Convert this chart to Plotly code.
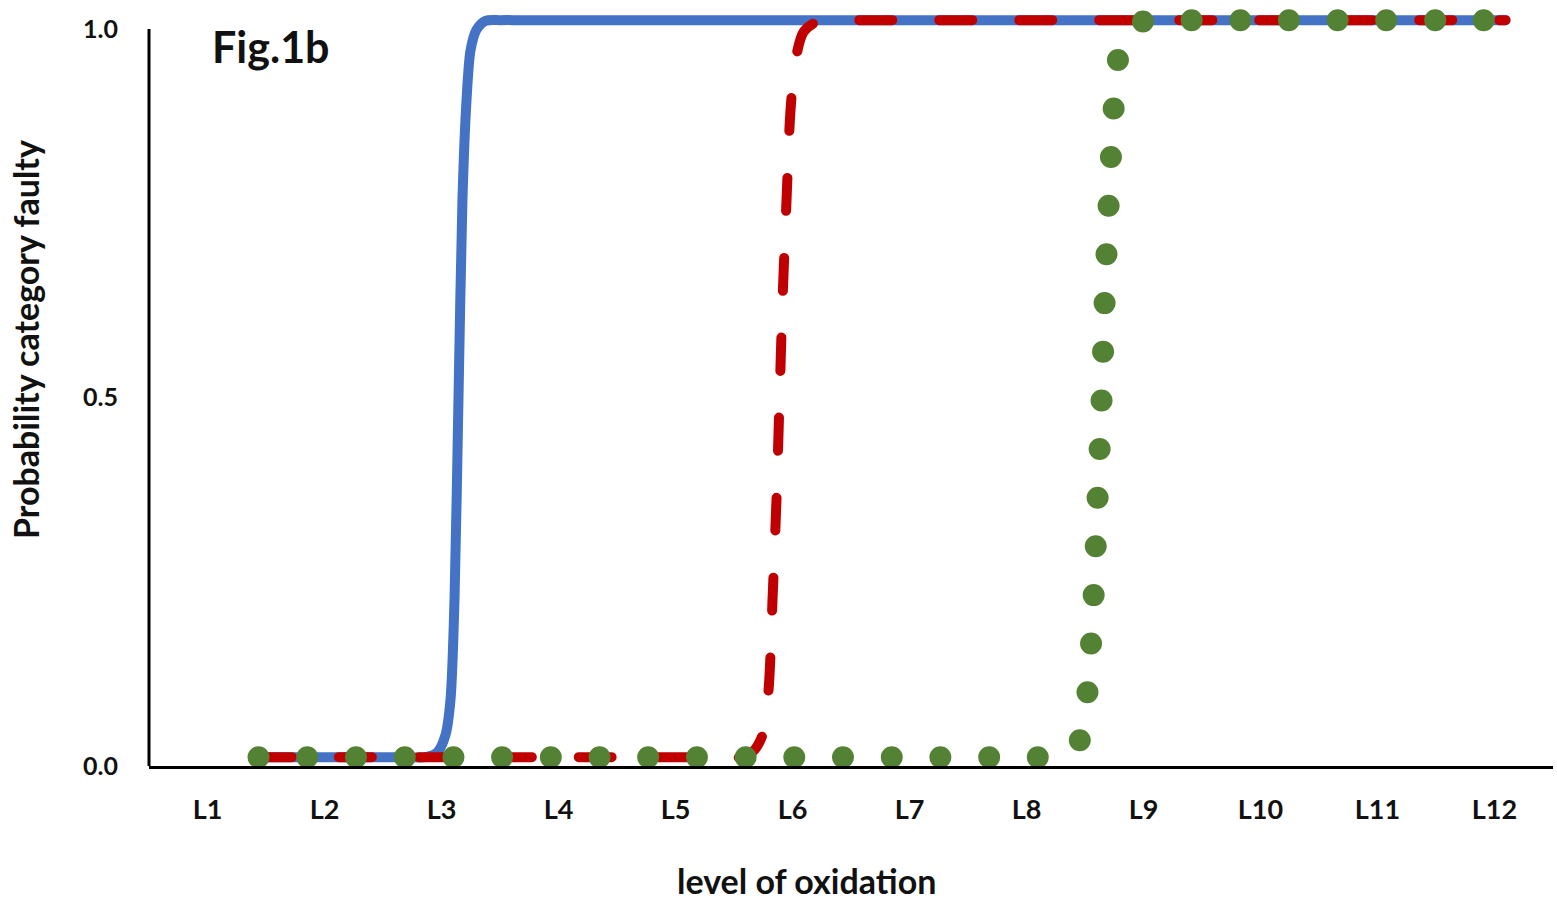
import plotly.graph_objects as go

# ---- data ----
levels = ["L1", "L2", "L3", "L4", "L5", "L6", "L7", "L8", "L9", "L10", "L11", "L12"]
level_pos = list(range(1, 13))
y_ticks = [0.0, 0.5, 1.0]
y_tick_text = ["0.0", "0.5", "1.0"]

blue_x = [1.436, 2.700, 2.863, 2.966, 3.034, 3.077, 3.111, 3.145, 3.179, 3.214, 3.248, 3.299, 3.376, 3.504, 3.700, 12.094]
blue_y = [0.012, 0.012, 0.012, 0.019, 0.042, 0.090, 0.225, 0.497, 0.768, 0.904, 0.971, 0.999, 1.011, 1.012, 1.012, 1.012]

red_x = [1.436, 5.400, 5.556, 5.658, 5.744, 5.795, 5.829, 5.863, 5.889, 5.915, 5.949, 5.983, 6.026, 6.094, 6.197, 6.325, 6.500, 12.094]
red_y = [0.012, 0.012, 0.012, 0.019, 0.042, 0.103, 0.225, 0.361, 0.497, 0.632, 0.768, 0.890, 0.958, 0.996, 1.009, 1.012, 1.012, 1.012]

green_x = [1.436, 8.100, 8.248, 8.359, 8.453, 8.521, 8.573, 8.607, 8.641, 8.667, 8.701, 8.744, 8.778, 8.846, 8.974, 9.145, 9.300, 12.094]
green_y = [0.012, 0.012, 0.012, 0.018, 0.034, 0.100, 0.229, 0.361, 0.494, 0.626, 0.758, 0.890, 0.955, 0.992, 1.009, 1.012, 1.012, 1.012]

FONT = "Lato"
TXT = "#111111"

fig = go.Figure()
fig.add_trace(go.Scatter(x=blue_x, y=blue_y, mode="lines",
                         line=dict(color="#4472C4", width=10, shape="spline", smoothing=0.8),
                         showlegend=False, hoverinfo="skip"))
fig.add_trace(go.Scatter(x=red_x, y=red_y, mode="lines",
                         line=dict(color="#C00000", width=10, dash="33px,47px", shape="spline", smoothing=0.8),
                         showlegend=False, hoverinfo="skip"))
fig.add_trace(go.Scatter(x=green_x, y=green_y, mode="lines",
                         line=dict(color="#548235", width=22, dash="0px,48.7px", shape="spline", smoothing=0.8),
                         showlegend=False, hoverinfo="skip"))

fig.update_layout(
    width=1557, height=905,
    margin=dict(l=149, r=4, t=3, b=139),
    paper_bgcolor="white", plot_bgcolor="white",
    font=dict(family=FONT, color=TXT),
    xaxis=dict(range=[0.5, 12.5], tickvals=level_pos, ticktext=levels,
               showgrid=False, zeroline=False, showline=True, linecolor="black", linewidth=3,
               ticks="", ticklabelstandoff=18,
               tickfont=dict(family=FONT, size=27, weight="bold", color=TXT)),
    yaxis=dict(range=[0, 763 / 737], tickvals=y_ticks, ticktext=y_tick_text,
               showgrid=False, zeroline=False, showline=False,
               ticks="", ticklabelstandoff=30,
               tickfont=dict(family=FONT, size=25, weight="bold", color=TXT)),
    shapes=[dict(type="line", xref="paper", yref="y", x0=0, x1=0, y0=0, y1=1,
                 line=dict(color="black", width=3))],
    annotations=[
        dict(text="Fig.1b", xref="paper", yref="paper", x=(210 - 149) / 1404, y=(766 - 46) / 763,
             xanchor="left", yanchor="middle", showarrow=False,
             font=dict(family=FONT, size=43, weight="bold", color=TXT)),
        dict(text="level of oxidation", xref="paper", yref="paper", x=(806 - 149) / 1404, y=-(880 - 766) / 763,
             xanchor="center", yanchor="middle", showarrow=False,
             font=dict(family=FONT, size=34, weight="bold", color=TXT)),
        dict(text="Probability category faulty", xref="paper", yref="paper", x=-(149 - 25) / 1404,
             y=(766 - 340) / 763, xanchor="center", yanchor="middle", textangle=-90, showarrow=False,
             font=dict(family=FONT, size=34, weight="bold", color=TXT)),
    ],
)

post = """
document.body.style.margin = '0';
document.body.style.padding = '0';
var gd = document.getElementById('{plot_id}');
function rc(){ gd.querySelectorAll('.scatterlayer .js-line').forEach(function(p){ p.style.strokeLinecap='round'; p.style.strokeLinejoin='round'; }); }
rc(); gd.on('plotly_afterplot', rc);
"""
fig.write_html("out.html", post_script=post, config={"displayModeBar": False})
